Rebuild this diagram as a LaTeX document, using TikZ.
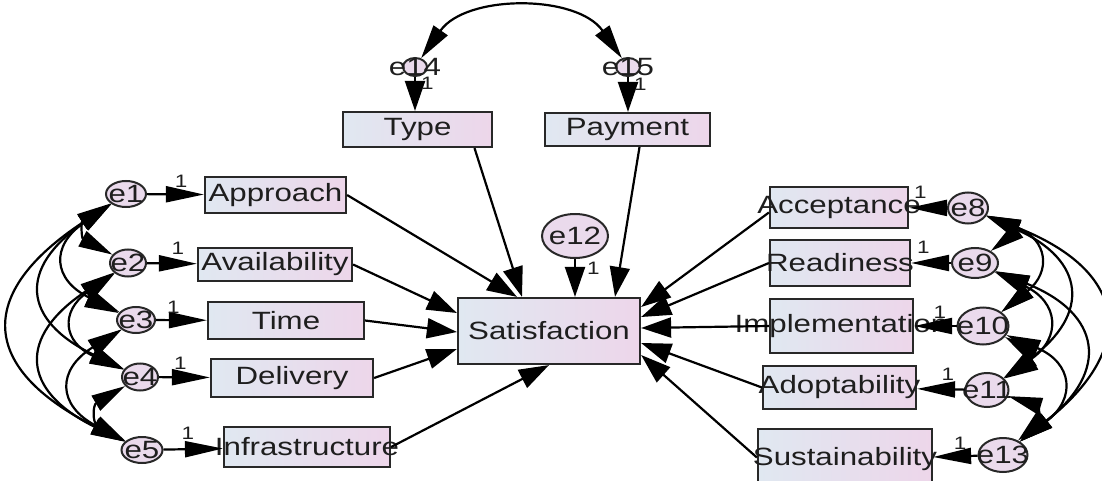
\documentclass[tikz,border=0pt]{standalone}
\usepackage{fontspec}
\setmainfont[FakeStretch=1.25]{Liberation Sans}
\usetikzlibrary{arrows.meta,shapes.geometric,calc}
\definecolor{boxL}{RGB}{224,232,241}
\definecolor{boxR}{RGB}{237,214,234}
\definecolor{ellF}{RGB}{234,218,236}
\definecolor{edgec}{RGB}{40,40,40}
\definecolor{txt}{RGB}{30,30,30}
\begin{document}
\begin{tikzpicture}[x=1pt,y=1pt,
  var/.style={draw=edgec, line width=2.2pt, rectangle, left color=boxL, right color=boxR, inner sep=0pt, text=txt, font=\fontsize{25}{28}\selectfont},
  err/.style={draw=edgec, line width=2pt, ellipse, fill=ellF, inner sep=0pt},
  elab/.style={anchor=center, text=txt, font=\fontsize{25}{28}\selectfont, inner sep=0pt},
  num/.style={font=\fontsize{18}{20}\selectfont, inner sep=0pt, text=txt},
  arr/.style={draw=black, line width=2.2pt, -{Triangle[length=30pt,width=20pt]}},
  harr/.style={draw=black, line width=2.2pt, -{Triangle[length=38pt,width=16pt]}},
  cov/.style={draw=black, line width=2.2pt, {Triangle[length=34pt,width=17pt]}-{Triangle[length=34pt,width=17pt]}},
]
\useasboundingbox (0,0) rectangle (1102,480);

% observed variables
\node[var, minimum width=141pt, minimum height=36pt] (Approach) at (275.5,285) {\makebox[0pt]{Approach}};
\node[var, minimum width=154pt, minimum height=33pt] (Availability) at (275,215.5) {\makebox[0pt]{Availability}};
\node[var, minimum width=156pt, minimum height=37pt] (Time) at (286,159.5) {\makebox[0pt]{Time}};
\node[var, minimum width=162pt, minimum height=38pt] (Delivery) at (292,102) {\makebox[0pt]{Delivery}};
\node[var, minimum width=166pt, minimum height=40pt] (Infrastructure) at (307,33) {\makebox[0pt]{Infrastructure}};
\node[var, minimum width=149pt, minimum height=35pt] (Type) at (417.5,350.5) {\makebox[0pt]{Type}};
\node[var, minimum width=165pt, minimum height=33pt] (Payment) at (627.5,350.5) {\makebox[0pt]{Payment}};
\node[var, minimum width=182pt, minimum height=66pt] (Satisfaction) at (549,149) {\makebox[0pt]{Satisfaction}};
\node[var, minimum width=138pt, minimum height=41pt] (Acceptance) at (839,272.5) {\makebox[0pt]{Acceptance}};
\node[var, minimum width=140pt, minimum height=46pt] (Readiness) at (840,217) {\makebox[0pt]{Readiness}};
\node[var, minimum width=143pt, minimum height=54pt] (Implementation) at (841.5,154) {\makebox[0pt]{Implementation}};
\node[var, minimum width=153pt, minimum height=43pt] (Adoptability) at (839.5,92.5) {\makebox[0pt]{Adoptability}};
\node[var, minimum width=174pt, minimum height=61pt] (Sustainability) at (845,20.5) {\makebox[0pt]{Sustainability}};

% error terms
\node[err, minimum width=40pt, minimum height=26pt, label={[elab]center:e1}] (e1) at (126,286) {};
\node[err, minimum width=36pt, minimum height=27pt, label={[elab]center:e2}] (e2) at (128,217) {};
\node[err, minimum width=38pt, minimum height=26pt, label={[elab]center:e3}] (e3) at (136,160) {};
\node[err, minimum width=36pt, minimum height=27pt, label={[elab]center:e4}] (e4) at (140,103) {};
\node[err, minimum width=41pt, minimum height=26pt, label={[elab]center:e5}] (e5) at (142,30) {};
\node[err, minimum width=66pt, minimum height=44pt, label={[elab]center:e12}] (e12) at (575,244) {};
\node[err, minimum width=24pt, minimum height=18pt, label={[elab]center:e14}] (e14) at (415,413) {};
\node[err, minimum width=24pt, minimum height=18pt, label={[elab]center:e15}] (e15) at (628,413) {};
\node[err, minimum width=40pt, minimum height=31pt, label={[elab]center:e8}] (e8) at (968,272) {};
\node[err, minimum width=46pt, minimum height=30pt, label={[elab]center:e9}] (e9) at (975,217) {};
\node[err, minimum width=51pt, minimum height=37pt, label={[elab]center:e10}] (e10) at (983,154) {};
\node[err, minimum width=43pt, minimum height=34pt, label={[elab]center:e11}] (e11) at (987,90) {};
\node[err, minimum width=49pt, minimum height=34pt, label={[elab]center:e13}] (e13) at (1003,25) {};

% error -> indicator
\draw[harr] (e1) -- node[num, pos=.6, above=6pt]{1} (Approach);
\draw[harr] (e2) -- node[num, pos=.62, above=8pt]{1} (Availability);
\draw[harr] (e3) -- node[num, pos=.34, above=6pt]{1} (Time);
\draw[harr] (e4) -- node[num, pos=.42, above=7pt]{1} (Delivery);
\draw[harr] (e5) -- node[num, pos=.41, above=9pt]{1} (Infrastructure);
\draw[harr] (e8) -- node[num, pos=.7, above=8pt]{1} (Acceptance);
\draw[harr] (e9) -- node[num, pos=.69, above=8pt]{1} (Readiness);
\draw[harr] (e10) -- node[num, pos=.39, above=6pt]{1} (Implementation);
\draw[harr] (e11) -- node[num, pos=.35, above=8pt]{1} (Adoptability);
\draw[harr] (e13) -- node[num, pos=.39, above=6pt]{1} (Sustainability);
\draw[arr] (e14) -- node[num, pos=.2, right=5pt]{1} (e14 |- Type.north);
\draw[arr] (e15) -- node[num, pos=.2, right=5pt]{1} (e15 |- Payment.north);
\draw[arr] (e12) -- node[num, pos=.25, right=11pt]{1} (e12 |- Satisfaction.north);

% paths into Satisfaction
\draw[arr] (Approach.east) -- ([xshift=-32pt]Satisfaction.north);
\draw[arr] ([xshift=57pt]Type.south) -- ([xshift=-27pt]Satisfaction.north);
\draw[arr] ([xshift=12pt]Payment.south) -- ([xshift=66pt]Satisfaction.north);
\draw[arr] (Availability.east) -- ([yshift=18pt]Satisfaction.west);
\draw[arr] (Time.east) -- ([yshift=-1pt]Satisfaction.west);
\draw[arr] (Delivery.east) -- ([yshift=-18pt]Satisfaction.west);
\draw[arr] (Infrastructure.east) -- (Satisfaction.south);
\draw[arr] ([yshift=-5pt]Acceptance.west) -- ([yshift=24pt]Satisfaction.east);
\draw[arr] (Readiness.west) -- ([yshift=14pt]Satisfaction.east);
\draw[arr] (Implementation.west) -- ([yshift=3pt]Satisfaction.east);
\draw[arr] (Adoptability.west) -- ([yshift=-12pt]Satisfaction.east);
\draw[arr] ([yshift=2pt]Sustainability.west) -- ([yshift=-24pt]Satisfaction.east);

% covariances
\foreach \a/\b in {e1/e2,e1/e3,e1/e4,e1/e5,e2/e3,e2/e4,e2/e5,e3/e4,e3/e5,e4/e5}
  \draw[cov] (\a) to[bend right=60, looseness=1.75] (\b);
\foreach \a/\b in {e8/e9,e8/e10,e8/e11,e8/e13,e9/e10,e9/e11,e9/e13,e10/e11,e10/e13,e11/e13}
  \draw[cov] (\a) to[bend left=60, looseness=1.7] (\b);
\draw[cov] (e14) to[bend left=55, looseness=1.0] (e15);
\end{tikzpicture}
\end{document}
